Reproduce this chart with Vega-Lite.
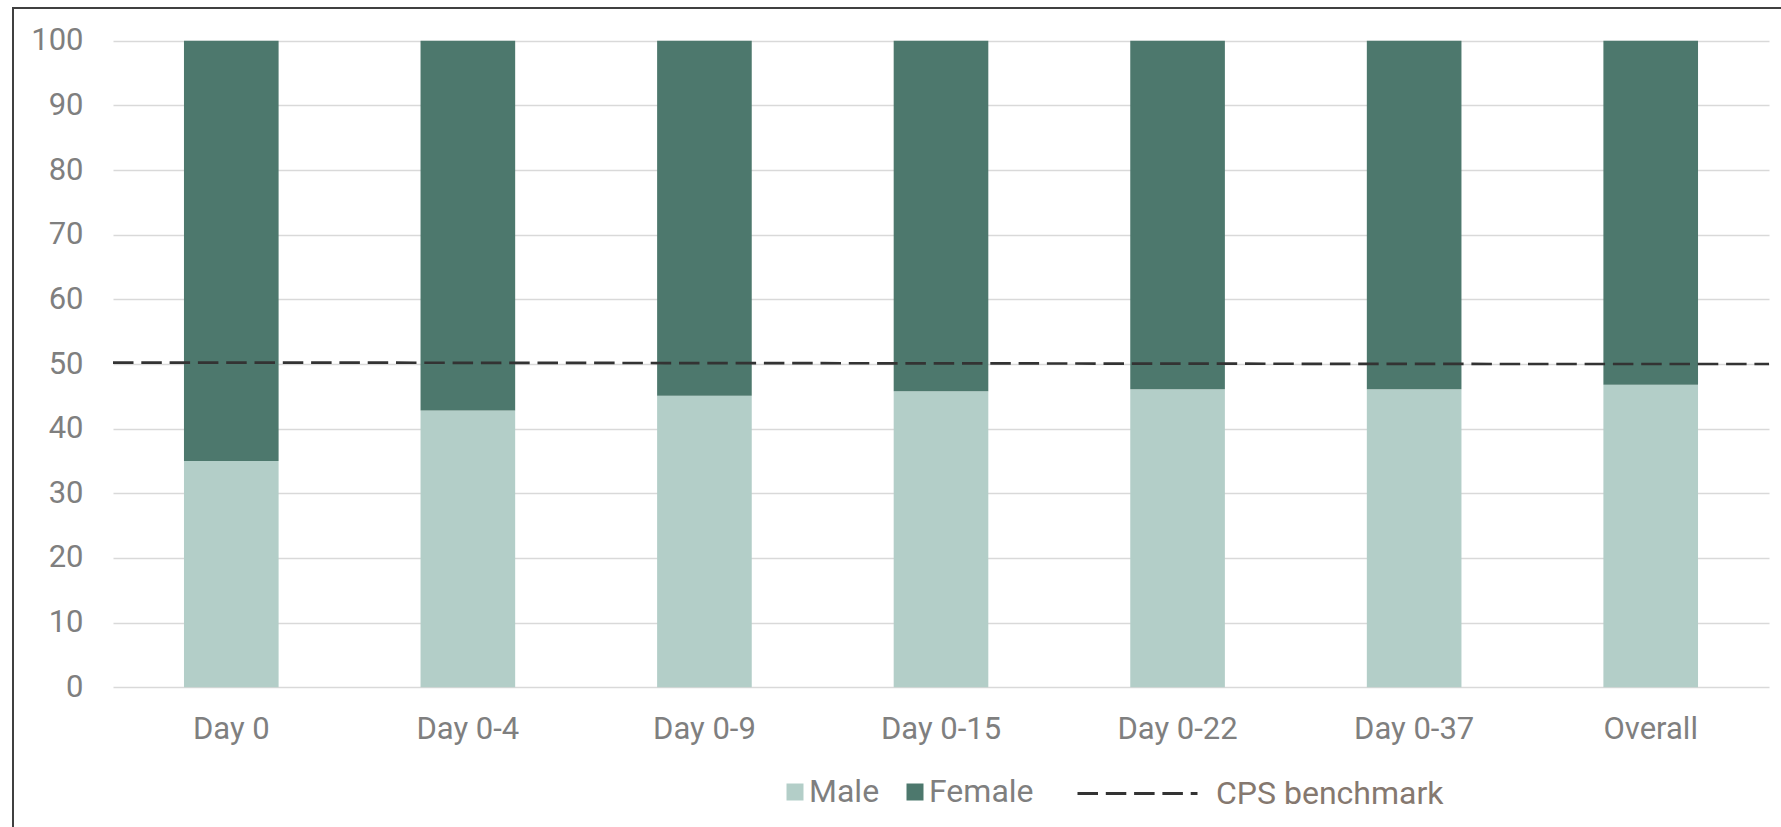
{
  "$schema": "https://vega.github.io/schema/vega-lite/v6.json",
  "width": 1772,
  "height": 822,
  "autosize": {"type": "none"},
  "padding": {"left": 13, "top": 8, "right": 0, "bottom": 0},
  "background": "white",
  "config": {
    "view": {"stroke": "#404040", "strokeWidth": 2},
    "font": "Roboto",
    "axis": {"labelFont": "Roboto", "labelColor": "#7f7f7f", "labelFontSize": 31}
  },
  "datasets": {
    "shares": [
      {"period": "Day 0", "sex": "Male", "percent": 35.0},
      {"period": "Day 0", "sex": "Female", "percent": 65.0},
      {"period": "Day 0-4", "sex": "Male", "percent": 42.8},
      {"period": "Day 0-4", "sex": "Female", "percent": 57.2},
      {"period": "Day 0-9", "sex": "Male", "percent": 45.1},
      {"period": "Day 0-9", "sex": "Female", "percent": 54.9},
      {"period": "Day 0-15", "sex": "Male", "percent": 45.8},
      {"period": "Day 0-15", "sex": "Female", "percent": 54.2},
      {"period": "Day 0-22", "sex": "Male", "percent": 46.1},
      {"period": "Day 0-22", "sex": "Female", "percent": 53.9},
      {"period": "Day 0-37", "sex": "Male", "percent": 46.1},
      {"period": "Day 0-37", "sex": "Female", "percent": 53.9},
      {"period": "Overall", "sex": "Male", "percent": 46.8},
      {"period": "Overall", "sex": "Female", "percent": 53.2}
    ],
    "benchmark": [
      {"period": "Day 0", "series": "CPS benchmark", "percent": 50.2},
      {"period": "Day 0-4", "series": "CPS benchmark", "percent": 50.2},
      {"period": "Day 0-9", "series": "CPS benchmark", "percent": 50.15},
      {"period": "Day 0-15", "series": "CPS benchmark", "percent": 50.1},
      {"period": "Day 0-22", "series": "CPS benchmark", "percent": 50.05},
      {"period": "Day 0-37", "series": "CPS benchmark", "percent": 50.0},
      {"period": "Overall", "series": "CPS benchmark", "percent": 50.0}
    ]
  },
  "layer": [
    {
      "data": {"name": "shares"},
      "mark": {"type": "bar"},
      "encoding": {
        "x": {
          "field": "period",
          "type": "nominal",
          "sort": null,
          "scale": {"range": [100, 1756], "paddingInner": 0.6, "paddingOuter": 0.3},
          "axis": {
            "title": null,
            "orient": "bottom",
            "offset": -142.7,
            "domain": false,
            "ticks": false,
            "tickSize": 0,
            "labelAngle": 0,
            "labelBaseline": "alphabetic",
            "labelPadding": 50.7
          }
        },
        "y": {
          "field": "percent",
          "type": "quantitative",
          "stack": "zero",
          "scale": {"domain": [0, 100], "range": [679.3, 32.7], "nice": false},
          "axis": {
            "title": null,
            "values": [0, 10, 20, 30, 40, 50, 60, 70, 80, 90, 100],
            "offset": -75,
            "labelPadding": 5,
            "domain": false,
            "ticks": false,
            "tickSize": 0,
            "grid": true,
            "gridColor": "#d9d9d9",
            "gridWidth": 1.3
          }
        },
        "color": {
          "field": "sex",
          "type": "nominal",
          "sort": ["Male", "Female"],
          "scale": {"domain": ["Male", "Female"], "range": ["#b3cec8", "#4d786d"]},
          "legend": {
            "orient": "none",
            "legendX": 766,
            "legendY": 768,
            "direction": "horizontal",
            "title": null,
            "padding": 0,
            "symbolType": "square",
            "symbolSize": 289,
            "symbolStrokeWidth": 0,
            "symbolOpacity": 1,
            "labelFont": "Roboto",
            "labelFontSize": 32,
            "labelLimit": 0,
            "labelColor": "#7f7f7f",
            "labelOffset": -2,
            "columnPadding": 19
          }
        }
      }
    },
    {
      "data": {"name": "benchmark"},
      "mark": {"type": "line", "color": "#333333", "strokeWidth": 2.7, "strokeCap": "butt"},
      "encoding": {
        "x": {
          "field": "period",
          "type": "nominal",
          "sort": null,
          "scale": {"type": "point", "range": [100, 1756], "padding": 0},
          "axis": null
        },
        "y": {"field": "percent", "type": "quantitative"},
        "strokeDash": {
          "field": "series",
          "type": "nominal",
          "scale": {"range": [[20.5, 7.8]]},
          "legend": {
            "orient": "none",
            "legendX": 1063,
            "legendY": 724,
            "title": null,
            "padding": 0,
            "symbolType": "stroke",
            "symbolSize": 14400,
            "symbolDash": [18, 11.5],
            "symbolStrokeWidth": 3,
            "symbolStrokeColor": "#333333",
            "labelFont": "Roboto",
            "labelFontSize": 32,
            "labelLimit": 0,
            "labelColor": "#85786f",
            "labelOffset": 17
          }
        }
      }
    }
  ],
  "resolve": {"scale": {"x": "independent"}}
}
